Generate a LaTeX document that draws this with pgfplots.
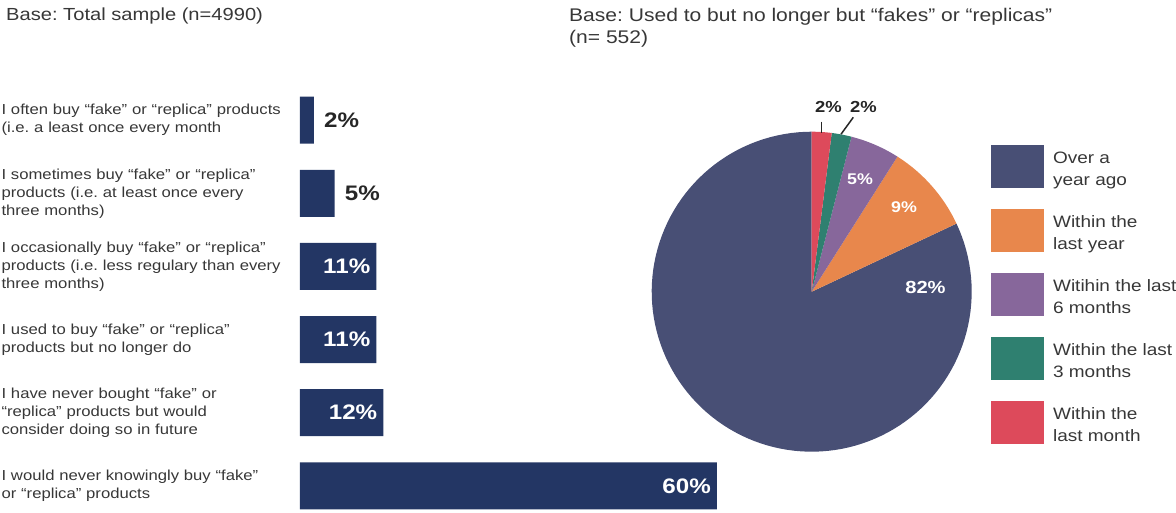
\documentclass[border=0pt]{standalone}
\usepackage{fontspec}
\setmainfont[FakeStretch=1.15]{Liberation Sans}
\usepackage{pgfplots}
\pgfplotsset{compat=1.18}
\usepackage{pgfplotstable}
\frenchspacing

\definecolor{barblue}{RGB}{35,54,100}
\definecolor{pienavy}{RGB}{72,79,117}
\definecolor{pieorange}{RGB}{232,135,76}
\definecolor{piepurple}{RGB}{135,103,155}
\definecolor{piegreen}{RGB}{47,128,112}
\definecolor{piered}{RGB}{221,74,91}
\definecolor{txtgray}{RGB}{55,55,55}

\pgfplotstableread{
y value
0 2
1 5
}\smallbars
\pgfplotstableread{
y value
2 11
3 11
4 12
5 60
}\bigbars
\pgfplotstableread{
slice value
Over 82
Year 9
Six 5
Three 2
Month 2
}\pietable

\begin{document}
\begin{tikzpicture}[x=1pt,y=1pt]
\useasboundingbox (0,0) rectangle (1176,512);

\pgfplotstablegetelem{0}{value}\of\pietable \let\vOver\pgfplotsretval
\pgfplotstablegetelem{1}{value}\of\pietable \let\vYear\pgfplotsretval
\pgfplotstablegetelem{2}{value}\of\pietable \let\vSix\pgfplotsretval
\pgfplotstablegetelem{3}{value}\of\pietable \let\vThree\pgfplotsretval
\pgfplotstablegetelem{4}{value}\of\pietable \let\vMonth\pgfplotsretval
\pgfmathsetmacro\aA{90-3.6*\vMonth}
\pgfmathsetmacro\aB{\aA-3.6*\vThree}
\pgfmathsetmacro\aC{\aB-3.6*\vSix}
\pgfmathsetmacro\aD{\aC-3.6*\vYear}
\pgfmathsetmacro\aE{\aD-3.6*\vOver}

% titles
\node[anchor=base west, inner sep=0pt, text=txtgray, font=\fontsize{17.5}{22}\selectfont] at (6,491.3) {Base: Total sample (n=4990)};
\node[anchor=base west, inner sep=0pt, text=txtgray, font=\fontsize{18.3}{22}\selectfont] at (569,490.3) {Base: Used to but no longer but “fakes” or “replicas”};
\node[anchor=base west, inner sep=0pt, text=txtgray, font=\fontsize{18.3}{22}\selectfont] at (569,468) {(n= 552)};

% bar chart
\begin{axis}[
  at={(300pt,2pt)}, anchor=south west,
  scale only axis, width=417pt, height=414pt,
  xbar, bar width=47pt, bar shift=0pt,
  xmin=0, xmax=60, ymin=-0.33, ymax=5.33, y dir=reverse,
  axis line style={draw=none}, tick style={draw=none}, xtick=\empty,
  ytick={0,1,2,3,4,5},
  yticklabels={
    {I often buy “fake” or “replica” products\\(i.e. a least once every month},
    {I sometimes buy “fake” or “replica”\\products (i.e. at least once every\\three months)},
    {I occasionally buy “fake” or “replica”\\products (i.e. less regulary than every\\three months)},
    {I used to buy “fake” or “replica”\\products but no longer do},
    {I have never bought “fake” or\\“replica” products but would\\consider doing so in future},
    {I would never knowingly buy “fake”\\or “replica” products}},
  yticklabel style={align=left, text width=294pt, inner sep=0pt, text=txtgray,
    font=\fontsize{14.5}{18}\selectfont},
  clip=false,
  nodes near coords={\pgfmathprintnumber[assume math mode=true]{\pgfplotspointmeta}\%},
  nodes near coords style={font=\bfseries\fontsize{21}{24}\selectfont, inner sep=0pt},
]
\addplot[fill=barblue, draw=none,
  nodes near coords style={anchor=west, xshift=10pt, text=black!85}]
  table[x=value, y=y] {\smallbars};
\addplot[fill=barblue, draw=none,
  nodes near coords style={anchor=east, xshift=-6pt, text=white}]
  table[x=value, y=y] {\bigbars};
\end{axis}

% pie chart
\begin{axis}[
  at={(811.7pt,220.3pt)}, anchor=center,
  scale only axis, width=320pt, height=320pt,
  xmin=-1, xmax=1, ymin=-1, ymax=1, hide axis, clip=false,
  legend style={at={(1.06,0.958)}, anchor=north west, draw=none, fill=none,
    font=\fontsize{16.5}{22}\selectfont, text=txtgray,
    nodes={align=left}, row sep=20.3pt, column sep=7pt, inner sep=0pt},
  legend cell align=left,
  legend image code/.code={\fill[#1] (0pt,-19pt) rectangle (53pt,24pt);},
]
\addplot[fill=pienavy, draw=none, domain=\aE:\aD, samples=120]
  ({cos(x)},{sin(x)}) -- (axis cs:0,0) -- cycle;
\addlegendentry{Over a\\year ago}
\addplot[fill=pieorange, draw=none, domain=\aD:\aC, samples=30]
  ({cos(x)},{sin(x)}) -- (axis cs:0,0) -- cycle;
\addlegendentry{Within the\\last year}
\addplot[fill=piepurple, draw=none, domain=\aC:\aB, samples=20]
  ({cos(x)},{sin(x)}) -- (axis cs:0,0) -- cycle;
\addlegendentry{Witihin the last\\6 months}
\addplot[fill=piegreen, draw=none, domain=\aB:\aA, samples=10]
  ({cos(x)},{sin(x)}) -- (axis cs:0,0) -- cycle;
\addlegendentry{Within the last\\3 months}
\addplot[fill=piered, draw=none, domain=\aA:90, samples=10]
  ({cos(x)},{sin(x)}) -- (axis cs:0,0) -- cycle;
\addlegendentry{Within the\\last month}

\node[text=white, font=\bfseries\fontsize{17.5}{20}\selectfont] at (axis cs:0.711,0.029) {82\%};
\node[text=white, font=\bfseries\fontsize{15.5}{18}\selectfont] at (axis cs:0.577,0.526) {9\%};
\node[text=white, font=\bfseries\fontsize{15.5}{18}\selectfont] at (axis cs:0.302,0.704) {5\%};
\node[text=black!85, font=\bfseries\fontsize{16}{18}\selectfont] at (axis cs:0.104,1.154) {2\%};
\node[text=black!85, font=\bfseries\fontsize{16}{18}\selectfont] at (axis cs:0.323,1.154) {2\%};
\draw[black!85, line width=1.5pt] (axis cs:0.0625,1.0625) -- (axis cs:0.0625,0.994);
\draw[black!85, line width=1.5pt] (axis cs:0.26,1.09) -- (axis cs:0.183,0.984);
\end{axis}
\end{tikzpicture}
\end{document}
